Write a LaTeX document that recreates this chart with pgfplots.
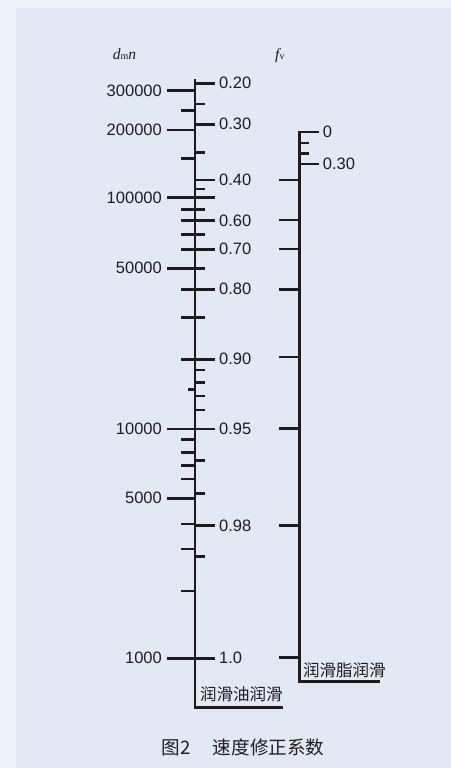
\documentclass[border=0pt]{standalone}
\usepackage{pgfplots}
\pgfplotsset{compat=1.18}
\usepackage{pgfplotstable}
\usepackage{fontspec}
\setmainfont{Liberation Sans}
\newfontfamily\serif{Liberation Serif}
\newfontfamily\cjk{Noto Sans CJK SC}

\definecolor{outerbg}{RGB}{238,243,248}
\definecolor{panel}{RGB}{226,232,244}
\definecolor{ink}{RGB}{30,27,28}
\definecolor{txt}{RGB}{30,30,30}

\newcommand\numfont{\fontsize{16.5bp}{18bp}\selectfont}

% everything is laid out in picture units (451 x 768, y downwards)
% oil scale: axis at x=195, grease scale: axis at x=299.3

% d_m n ticks, left of the oil axis
\pgfplotstableread{
dmn    y     x0   x1
300000 90.7  167  195
250000 110.7 181  195
200000 130.0 167  195
150000 158.3 181  195
100000 197.7 167  195
90000  209.3 181  195
80000  220.7 181  195
70000  234.3 181  195
60000  249.3 181  195
50000  268.3 167  195
40000  289.3 181  195
30000  317.7 181  195
20000  359.3 181  195
15000  389.3 188  195
10000  429.0 167  195
9000   439.3 181  195
8000   452.3 181  195
7000   465.7 181  195
6000   479.0 181  195
5000   498.3 167  195
4000   524.0 181  195
3000   549.0 181  195
2000   591.0 181  195
1000   658.3 167  195
}\dmnticks

% f_v ticks for oil lubrication, right of the oil axis
\pgfplotstableread{
y     x0   x1
83.3  195  215
104.0 195  204.5
124.3 195  215
152.3 195  204.5
180.0 195  215
189.0 195  204.5
197.7 195  215
209.3 195  204.5
220.7 195  215
234.3 195  204.5
249.3 195  215
268.3 195  204.5
289.3 195  215
317.7 195  204.5
359.3 195  215
370.0 195  204.5
382.7 195  204.5
396.0 195  204.5
410.0 195  204.5
429.0 195  215
460.7 195  204.5
493.3 195  204.5
525.7 195  215
556.7 195  204.5
658.3 195  215
}\oilticks

% f_v ticks for grease lubrication
\pgfplotstableread{
y     x0    x1
132.0 299.3 319.3
143.0 299.3 309.3
153.7 299.3 309.3
164.0 299.3 319.3
180.0 279   299.3
220.0 279   299.3
249.0 279   299.3
289.7 279   299.3
357.0 279   299.3
428.7 279   299.3
525.7 279   299.3
657.7 279   299.3
}\greaseticks

\pgfplotstableread{
y     lab
90.7  300000
130.0 200000
197.7 100000
268.3 50000
429.0 10000
498.3 5000
658.3 1000
}\dmnlabels

\pgfplotstableread{
y     lab
83.3  0.20
124.3 0.30
180.0 0.40
220.7 0.60
249.3 0.70
289.3 0.80
359.3 0.90
429.0 0.95
525.7 0.98
658.3 1.0
}\oillabels

\pgfplotstableread{
y     lab
132.0 0
164.0 0.30
}\greaselabels

\begin{document}
\begin{tikzpicture}
\begin{axis}[
  width=451bp, height=768bp, scale only axis,
  xmin=0, xmax=451, ymin=0, ymax=768,
  y dir=reverse, hide axis, clip=false,
  every node near coord/.append style={inner sep=0pt, font=\numfont, text=txt},
]
% background
\addplot[fill=outerbg, draw=none] coordinates {(0,0) (451,0) (451,768) (0,768) (0,0)};
\addplot[fill=panel, draw=none] coordinates {(16,8) (451,8) (451,768) (16,768) (16,8)};

% scale lines
\addplot[ink, line width=2.9bp] coordinates {(195,79.3) (195,707.3) (283.3,707.3)};
\addplot[ink, line width=2.9bp] coordinates {(299.3,130.8) (299.3,681.7) (380,681.7)};

% ticks
\addplot[ink, line width=2.7bp, mark=none, quiver={u=\thisrow{x1}-\thisrow{x0}, v=0}]
  table[x=x0, y=y] {\dmnticks};
\addplot[ink, line width=2.7bp, mark=none, quiver={u=\thisrow{x1}-\thisrow{x0}, v=0}]
  table[x=x0, y=y] {\oilticks};
\addplot[ink, line width=2.7bp, mark=none, quiver={u=\thisrow{x1}-\thisrow{x0}, v=0}]
  table[x=x0, y=y] {\greaseticks};

% tick labels
\addplot[draw=none, mark=none, nodes near coords, point meta=explicit symbolic,
  every node near coord/.append style={anchor=east}]
  table[x expr=162, y=y, meta=lab] {\dmnlabels};
\addplot[draw=none, mark=none, nodes near coords, point meta=explicit symbolic,
  every node near coord/.append style={anchor=west}]
  table[x expr=219, y=y, meta=lab] {\oillabels};
\addplot[draw=none, mark=none, nodes near coords, point meta=explicit symbolic,
  every node near coord/.append style={anchor=west}]
  table[x expr=322.7, y=y, meta=lab] {\greaselabels};

% scale titles
\node[anchor=base west, inner sep=0pt, text=txt] at (axis cs:112.7,59.3)
  {\serif\fontsize{15.5bp}{16bp}\selectfont\itshape d\upshape\fontsize{10bp}{10bp}\selectfont m\fontsize{15.5bp}{16bp}\selectfont\itshape n};
\node[anchor=base west, inner sep=0pt, text=txt] at (axis cs:275,59.3)
  {\serif\fontsize{15.5bp}{16bp}\selectfont\itshape f\upshape\fontsize{10bp}{10bp}\selectfont v};

\node[anchor=west, inner sep=0pt, text=txt] at (axis cs:200,694)
  {\cjk\fontsize{16.5bp}{18bp}\selectfont 润滑油润滑};
\node[anchor=west, inner sep=0pt, text=txt] at (axis cs:303,670)
  {\cjk\fontsize{16.5bp}{18bp}\selectfont 润滑脂润滑};

% caption
\node[anchor=west, inner sep=0pt, text=txt] at (axis cs:161.7,747.3)
  {\cjk\fontsize{18.6bp}{20bp}\selectfont 图2\hspace{22bp}速度修正系数};
\end{axis}
\end{tikzpicture}
\end{document}
